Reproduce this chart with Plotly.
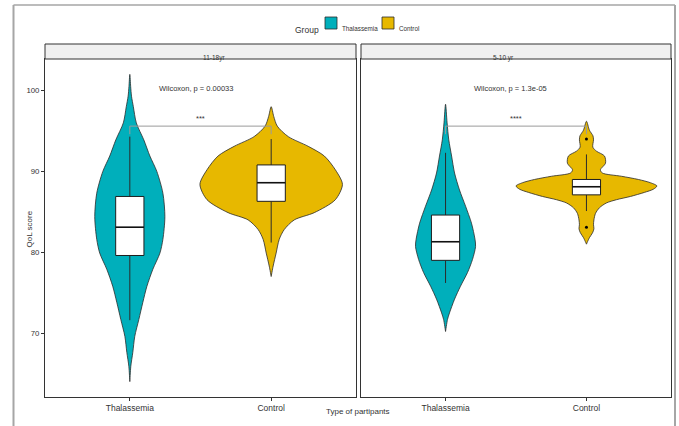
import plotly.graph_objects as go

W, H = 679, 426

# ---------------- data ----------------
groups = ["Thalassemia", "Control"]
panels = ["11-18yr", "5-10 yr"]
group_colors = ["#00AFBB", "#E7B800"]

# violin density profiles: score level -> half width (x units)
thal_1118_levels = [102.0, 100.5, 99.3, 98.0, 96.0, 93.9, 91.9, 90.0, 87.3, 84.4, 81.6, 79.9, 77.9, 75.8, 73.8, 71.7, 69.6, 67.6, 65.9, 64.0]
thal_1118_width = [0, 0.006, 0.012, 0.025, 0.046, 0.099, 0.142, 0.191, 0.234, 0.248, 0.234, 0.213, 0.163, 0.121, 0.092, 0.064, 0.035, 0.021, 0.007, 0]

ctrl_1118_levels = [98.0, 96.8, 95.6, 94.3, 93.1, 91.9, 90.2, 88.4, 86.5, 84.9, 84.0, 82.8, 81.6, 79.9, 78.3, 77.0]
ctrl_1118_width = [0, 0.018, 0.043, 0.121, 0.262, 0.376, 0.454, 0.504, 0.454, 0.305, 0.163, 0.092, 0.057, 0.035, 0.014, 0]

thal_510_levels = [98.3, 96.0, 93.9, 91.9, 89.8, 87.7, 85.7, 83.6, 81.6, 80.7, 79.1, 77.5, 75.8, 74.2, 72.5, 71.7, 70.2]
thal_510_width = [0, 0.011, 0.023, 0.043, 0.064, 0.099, 0.142, 0.184, 0.209, 0.213, 0.191, 0.156, 0.106, 0.064, 0.028, 0.014, 0]

ctrl_510_levels = [96.2, 95.1, 94.4, 93.9, 93.0, 92.5, 91.9, 91.0, 90.2, 89.8, 89.4, 89.0, 88.6, 88.2, 87.8, 87.4, 86.9, 86.5, 86.1, 85.5, 84.8, 84.0, 83.4, 82.9, 82.4, 81.8, 81.0]
ctrl_510_width = [0, 0.021, 0.046, 0.050, 0.045, 0.071, 0.128, 0.135, 0.099, 0.113, 0.248, 0.369, 0.454, 0.500, 0.475, 0.411, 0.312, 0.213, 0.142, 0.092, 0.064, 0.053, 0.050, 0.053, 0.043, 0.021, 0]

# box summaries [lower whisker, q1, median, q3, upper whisker]
thal_1118_box = [71.6, 79.6, 83.1, 86.9, 94.3]
ctrl_1118_box = [81.2, 86.3, 88.6, 90.8, 94.0]
thal_510_box = [76.2, 79.0, 81.3, 84.6, 92.3]
ctrl_510_box = [85.1, 87.1, 88.1, 89.0, 92.1]
ctrl_510_outliers = [94.0, 83.1]

p_labels = ["Wilcoxon, p = 0.00033", "Wilcoxon, p = 1.3e-05"]
signif_labels = ["***", "****"]
bracket_y = 95.6
tick_vals = [70, 80, 90, 100]

# ---------------- figure ----------------
def px(x):
    return x / W


def py(y):
    return 1 - y / H


FONT = "Liberation Sans, Arial, sans-serif"
BOX_HALF = 0.1
fig = go.Figure()

violins = [
    [(thal_1118_levels, thal_1118_width), (ctrl_1118_levels, ctrl_1118_width)],
    [(thal_510_levels, thal_510_width), (ctrl_510_levels, ctrl_510_width)],
]
boxes = [[thal_1118_box, ctrl_1118_box], [thal_510_box, ctrl_510_box]]
outliers = [[[], []], [[], ctrl_510_outliers]]

for p in range(2):
    xa = "x" if p == 0 else "x2"
    ya = "y" if p == 0 else "y2"
    for g in range(2):
        pos = g + 1
        lv, wd = violins[p][g]
        xs = [pos + w for w in wd] + [pos - w for w in reversed(wd)]
        ys = list(lv) + list(reversed(lv))
        fig.add_trace(go.Scatter(
            x=xs, y=ys, mode="lines", fill="toself", fillcolor=group_colors[g],
            line=dict(color="#2b2b2b", width=0.8, shape="spline", smoothing=0.8),
            xaxis=xa, yaxis=ya, showlegend=False, hoverinfo="skip"))
    for g in range(2):
        pos = g + 1
        lf, q1, med, q3, uf = boxes[p][g]
        # whiskers
        fig.add_trace(go.Scatter(
            x=[pos, pos, None, pos, pos], y=[lf, q1, None, q3, uf], mode="lines",
            line=dict(color="#2b2b2b", width=1), xaxis=xa, yaxis=ya, showlegend=False, hoverinfo="skip"))
        # box body
        fig.add_trace(go.Scatter(
            x=[pos - BOX_HALF, pos + BOX_HALF, pos + BOX_HALF, pos - BOX_HALF, pos - BOX_HALF],
            y=[q1, q1, q3, q3, q1], mode="lines", fill="toself", fillcolor="white",
            line=dict(color="#1e1e1e", width=1), xaxis=xa, yaxis=ya, showlegend=False, hoverinfo="skip"))
        # median
        fig.add_trace(go.Scatter(
            x=[pos - BOX_HALF, pos + BOX_HALF], y=[med, med], mode="lines",
            line=dict(color="#111", width=1.6), xaxis=xa, yaxis=ya, showlegend=False, hoverinfo="skip"))
        if outliers[p][g]:
            fig.add_trace(go.Scatter(
                x=[pos] * len(outliers[p][g]), y=outliers[p][g], mode="markers",
                marker=dict(color="black", size=3), xaxis=xa, yaxis=ya, showlegend=False))
    # comparison bracket
    fig.add_trace(go.Scatter(
        x=[1, 1, 2, 2], y=[bracket_y - 1.0, bracket_y, bracket_y, bracket_y - 1.0],
        mode="lines", line=dict(color="#9a9a9a", width=1),
        xaxis=xa, yaxis=ya, showlegend=False, hoverinfo="skip"))
    fig.add_annotation(x=1.5, y=96.6, xref=xa, yref=ya, text=signif_labels[p], showarrow=False,
                       font=dict(size=7.5, color="#333", family=FONT))
    fig.add_annotation(x=1.19, y=100.3, xref=xa, yref=ya, text=p_labels[p], showarrow=False,
                       xanchor="left", font=dict(size=7.5, color="#333", family=FONT))

xdom = [[px(45), px(356)], [px(361), px(671)]]
ydom = [py(397), py(59)]

axis_common = dict(range=[0.4, 2.6], tickvals=[1, 2], ticktext=groups, ticks="outside", ticklen=3,
                   tickcolor="#333", tickfont=dict(size=8.5, color="#333", family=FONT),
                   showline=True, linecolor="#333", linewidth=1, mirror=True,
                   showgrid=False, zeroline=False, fixedrange=True)
yaxis_common = dict(range=[62.1, 103.9], domain=ydom, showline=True, linecolor="#333", linewidth=1,
                    mirror=True, showgrid=False, zeroline=False)

fig.update_layout(
    width=W, height=H, margin=dict(l=0, r=0, t=0, b=0),
    paper_bgcolor="white", plot_bgcolor="white", showlegend=False,
    xaxis=dict(domain=xdom[0], anchor="y", **axis_common),
    xaxis2=dict(domain=xdom[1], anchor="y2", **axis_common),
    yaxis=dict(anchor="x", tickvals=tick_vals, ticks="outside", ticklen=3, tickcolor="#333",
               tickfont=dict(size=7.8, color="#333", family=FONT), **yaxis_common),
    yaxis2=dict(anchor="x2", matches="y", showticklabels=False, ticks="", **yaxis_common),
)

shapes = []
# facet strips
for p in range(2):
    shapes.append(dict(type="rect", xref="paper", yref="paper", x0=xdom[p][0], x1=xdom[p][1],
                       y0=py(59), y1=py(44), fillcolor="#f0f0f0", line=dict(color="#333", width=1)))
    fig.add_annotation(x=(xdom[p][0] + xdom[p][1]) / 2, y=py(51.5), xref="paper", yref="paper",
                       text=panels[p], showarrow=False, font=dict(size=6.5, color="#333", family=FONT))
# outer page frame
shapes.append(dict(type="line", xref="paper", yref="paper", x0=px(13.5), x1=px(13.5), y0=0, y1=py(5),
                   line=dict(color="#a6a6a6", width=2)))
shapes.append(dict(type="line", xref="paper", yref="paper", x0=px(13.5), x1=px(675), y0=py(5), y1=py(5),
                   line=dict(color="#a6a6a6", width=1.5)))
shapes.append(dict(type="line", xref="paper", yref="paper", x0=px(675), x1=px(675), y0=0, y1=py(5),
                   line=dict(color="#a6a6a6", width=2)))
# legend keys
legend_keys = [(325, 337), (382, 394)]
for g in range(2):
    shapes.append(dict(type="rect", xref="paper", yref="paper", x0=px(legend_keys[g][0]), x1=px(legend_keys[g][1]),
                       y0=py(29), y1=py(17), fillcolor=group_colors[g], line=dict(color="#2b2b2b", width=0.8)))
    fig.add_annotation(x=px(legend_keys[g][1] + 3), y=py(23), xref="paper", yref="paper", text=groups[g],
                       showarrow=False, xanchor="left", font=dict(size=6.3, color="#333", family=FONT))
fig.add_annotation(x=px(321), y=py(23), xref="paper", yref="paper", text="Group", showarrow=False,
                   xanchor="right", font=dict(size=8.5, color="#333", family=FONT))
fig.update_layout(shapes=shapes)

# axis titles
fig.add_annotation(x=px(358), y=py(418), xref="paper", yref="paper", text="Type of partipants",
                   showarrow=False, font=dict(size=8, color="#333", family=FONT))
fig.add_annotation(x=px(22), y=py(229), xref="paper", yref="paper", text="QoL score", textangle=-90,
                   showarrow=False, font=dict(size=8, color="#333", family=FONT))
# cropped document text at very top
fig.add_annotation(x=px(62), y=py(2), xref="paper", yref="paper", text="ging group", showarrow=False,
                   xanchor="left", yanchor="bottom", font=dict(size=20, color="#111", family="Liberation Serif, serif"))

fig.write_html("out.html")
